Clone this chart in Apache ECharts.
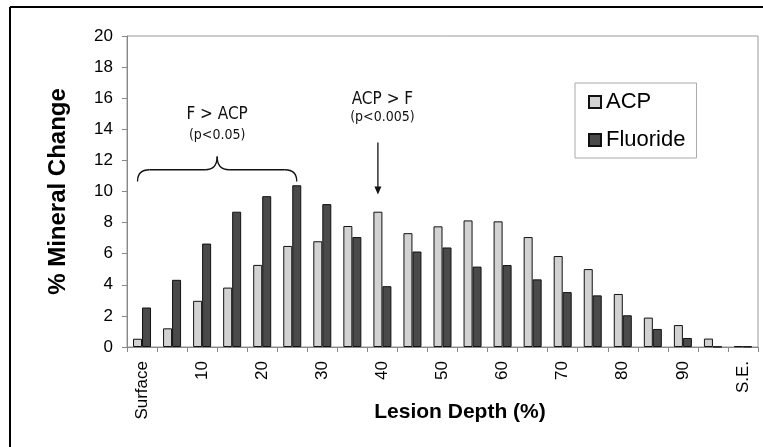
<!DOCTYPE html>
<html>
<head>
<meta charset="utf-8">
<script src="https://cdn.jsdelivr.net/npm/echarts@6/dist/echarts.min.js"></script>
<style>
  html, body { margin: 0; padding: 0; background: #fff; }
  #chart { width: 763px; height: 447px; }
</style>
</head>
<body>
<div id="chart"></div>
<script>
// Lesion depth bins (surface, then every 5 %, then sound enamel)
const depthBins = ['Surface', '5', '10', '15', '20', '25', '30', '35', '40', '45',
  '50', '55', '60', '65', '70', '75', '80', '85', '90', '95', 'S.E.'];

// % mineral change per depth bin
const acpValues = [0.53, 1.2, 2.97, 3.82, 5.28, 6.5, 6.8, 7.78, 8.7, 7.32,
  7.76, 8.14, 8.08, 7.07, 5.85, 5.01, 3.41, 1.89, 1.41, 0.54, 0.05];
const fluorideValues = [2.54, 4.32, 6.65, 8.7, 9.7, 10.4, 9.19, 7.07, 3.91, 6.14,
  6.4, 5.17, 5.27, 4.35, 3.53, 3.32, 2.04, 1.16, 0.58, 0.02, 0.03];

const seriesNames = ['ACP', 'Fluoride'];
const yTicks = { min: 0, max: 20, step: 2 };

const FONT = "'Liberation Sans', Arial, sans-serif";
const NOTE_FONT = "'DejaVu Sans Condensed', 'DejaVu Sans', Verdana, sans-serif";

const chart = echarts.init(document.getElementById('chart'), null, { renderer: 'canvas' });

const barStyle = (color) => ({ color: color, borderColor: '#111', borderWidth: 1 });

chart.setOption({
  animation: false,
  backgroundColor: '#fff',
  grid: {
    left: 127, top: 36, right: 5, bottom: 100,
    outerBoundsMode: 'none', containLabel: false,
    show: true, borderColor: '#999', borderWidth: 1
  },
  legend: {
    orient: 'vertical',
    left: 575, top: 83,
    padding: [7, 11, 6, 13],
    itemWidth: 12, itemHeight: 12,
    itemGap: 14,
    itemTextGap: 5,
    borderColor: '#aaa', borderWidth: 1,
    icon: 'rect',
    textStyle: { fontFamily: FONT, fontSize: 22, color: '#000', lineHeight: 24 },
    data: seriesNames
  },
  xAxis: {
    type: 'category',
    data: depthBins,
    name: 'Lesion Depth (%)',
    nameLocation: 'middle',
    nameGap: 55,
    nameMoveOverlap: false,
    nameTextStyle: { fontFamily: FONT, fontSize: 21, fontWeight: 'bold', color: '#000', padding: [0, 0, 0, 35] },
    axisLine: { lineStyle: { color: '#888', width: 1 } },
    axisTick: { show: true, interval: 0, length: 5, alignWithLabel: false, lineStyle: { color: '#888' } },
    axisLabel: { interval: 1, rotate: 90, margin: 14, fontFamily: FONT, fontSize: 17, color: '#000' }
  },
  yAxis: {
    type: 'value',
    min: yTicks.min, max: yTicks.max, interval: yTicks.step,
    name: '% Mineral Change',
    nameLocation: 'middle',
    nameRotate: 90,
    nameGap: 57,
    nameMoveOverlap: false,
    nameTextStyle: { fontFamily: FONT, fontSize: 24, fontWeight: 'bold', color: '#000' },
    axisLine: { show: true, lineStyle: { color: '#888', width: 1 } },
    axisTick: { show: true, length: 5, lineStyle: { color: '#888' } },
    axisLabel: { margin: 14, fontFamily: FONT, fontSize: 17, color: '#000' },
    splitLine: { show: false }
  },
  series: [
    { name: seriesNames[0], type: 'bar', data: acpValues, barWidth: 9, barGap: '0%', itemStyle: barStyle('#d2d2d2') },
    { name: seriesNames[1], type: 'bar', data: fluorideValues, barWidth: 9, barGap: '0%', itemStyle: barStyle('#4a4a4a') }
  ]
});

// Significance notes, anchored to the axes (category index, value)
const px = (cat, val) => chart.convertToPixel({ xAxisIndex: 0, yAxisIndex: 0 }, [cat, val]);
const halfBar = 4.5;

const braceL = px(0, 11.4)[0] - halfBar;
const braceR = px(5, 11.4)[0] + halfBar;
const braceY = px(0, 11.4)[1];
const braceEndY = px(0, 10.65)[1];
const braceTipY = px(0, 12.25)[1];
const braceMid = (braceL + braceR) / 2;
const r = 12;

const arrowX = px(8, 0)[0] - halfBar;
const arrowTop = px(8, 13.15)[1];
const arrowEnd = px(8, 9.8)[1];

const strokeStyle = { stroke: '#111', lineWidth: 1.3, fill: null };

const curve = (x1, y1, cx, cy, x2, y2) => ({
  type: 'bezierCurve', silent: true,
  shape: { x1: x1, y1: y1, x2: x2, y2: y2, cpx1: cx, cpy1: cy },
  style: strokeStyle
});
const seg = (x1, y1, x2, y2) => ({
  type: 'line', silent: true,
  shape: { x1: x1, y1: y1, x2: x2, y2: y2 },
  style: strokeStyle
});

chart.setOption({
  graphic: [
    // figure frame
    { type: 'line', silent: true, shape: { x1: 10, y1: 7, x2: 763, y2: 7 }, style: { stroke: '#000', lineWidth: 2 } },
    { type: 'line', silent: true, shape: { x1: 10, y1: 7, x2: 10, y2: 447 }, style: { stroke: '#000', lineWidth: 2 } },

    // curly brace over the surface layers
    curve(braceL, braceEndY, braceL, braceY, braceL + r, braceY),
    seg(braceL + r, braceY, braceMid - r, braceY),
    curve(braceMid - r, braceY, braceMid, braceY, braceMid, braceTipY),
    curve(braceMid, braceTipY, braceMid, braceY, braceMid + r, braceY),
    seg(braceMid + r, braceY, braceR - r, braceY),
    curve(braceR - r, braceY, braceR, braceY, braceR, braceEndY),

    {
      type: 'text', silent: true,
      x: braceMid, y: px(0, 14.95)[1],
      style: { text: 'F > ACP', fontFamily: NOTE_FONT, fontSize: 17, fill: '#111', align: 'center', verticalAlign: 'middle' }
    },
    {
      type: 'text', silent: true,
      x: braceMid, y: px(0, 13.6)[1],
      style: { text: '(p<0.05)', fontFamily: NOTE_FONT, fontSize: 14, fill: '#111', align: 'center', verticalAlign: 'middle' }
    },

    // arrow to the 40 % bin
    seg(arrowX, arrowTop, arrowX, arrowEnd - 6),
    {
      type: 'polygon', silent: true,
      shape: { points: [[arrowX - 3.5, arrowEnd - 8], [arrowX + 3.5, arrowEnd - 8], [arrowX, arrowEnd]] },
      style: { fill: '#111' }
    },
    {
      type: 'text', silent: true,
      x: px(8, 0)[0], y: px(8, 15.9)[1],
      style: { text: 'ACP > F', fontFamily: NOTE_FONT, fontSize: 17, fill: '#111', align: 'center', verticalAlign: 'middle' }
    },
    {
      type: 'text', silent: true,
      x: px(8, 0)[0], y: px(8, 14.75)[1],
      style: { text: '(p<0.005)', fontFamily: NOTE_FONT, fontSize: 14, fill: '#111', align: 'center', verticalAlign: 'middle' }
    }
  ]
});
</script>
</body>
</html>
